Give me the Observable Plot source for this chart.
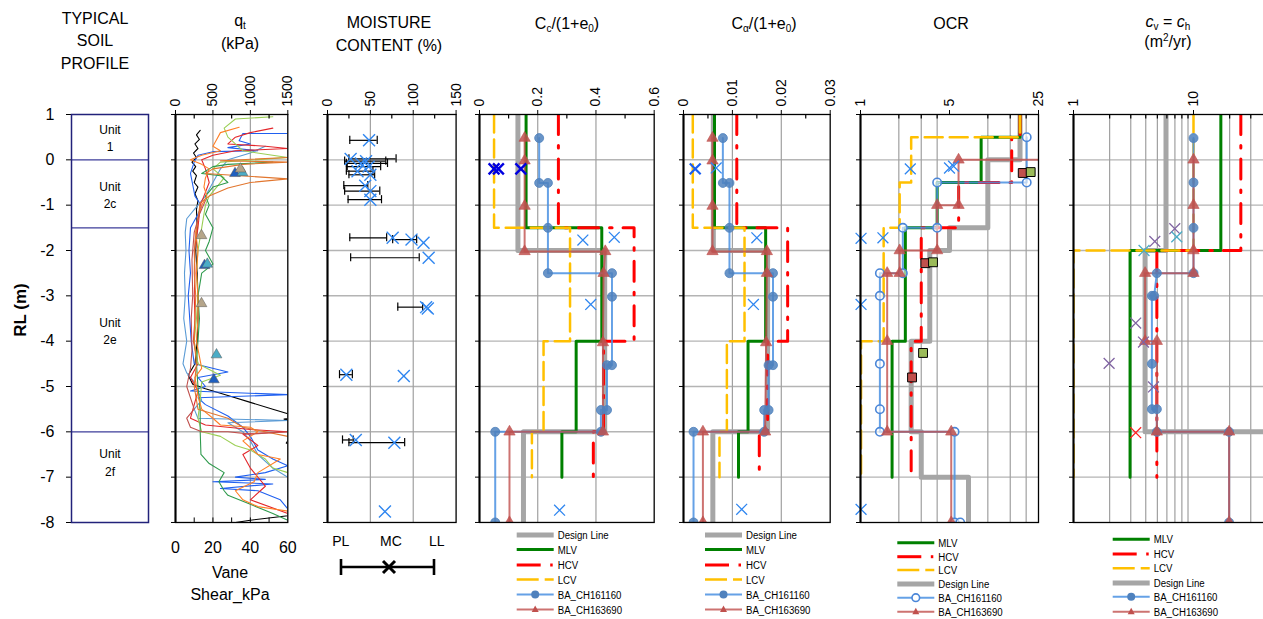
<!DOCTYPE html>
<html><head><meta charset="utf-8">
<script src="https://cdn.jsdelivr.net/npm/d3@7"></script>
<script src="https://cdn.jsdelivr.net/npm/@observablehq/plot@0.6"></script>
<style>
html,body{margin:0;padding:0;overflow:hidden;background:#fff}
#root{position:relative;width:1263px;height:619px;overflow:hidden;background:#fff;font-family:Arial,"Liberation Sans",Helvetica,sans-serif;color:#000}
.t{position:absolute;transform:translate(-50%,-50%);white-space:nowrap;text-align:center;font-size:16px;line-height:23px}
.t sub{font-size:10px;vertical-align:-3px;line-height:0}
.t sup{font-size:10px;vertical-align:6px;line-height:0}
.panel{position:absolute;top:0}
</style></head><body><div id="root"></div>
<script>
// ---------------- DATA ----------------
const rlTicks = [1,0,-1,-2,-3,-4,-5,-6,-7,-8];
const rlGrid = [0,-1,-2,-3,-4,-5,-6,-7];
const units = [{rl:0.5,label:"Unit\n1"},{rl:-0.75,label:"Unit\n2c"},{rl:-3.75,label:"Unit\n2e"},{rl:-6.65,label:"Unit\n2f"}];
const unitBounds = [0,-1.5,-6];

const qtTicks=[0,500,1000,1500], qtMinor=[250,750,1250], qtGrid=[500,1000];
const vaneTicks=[0,20,40,60], vaneMinor=[10,20,30,40,50];
const mcTicks=[0,50,100,150], mcMinor=[25,75,125], mcGrid=[50,100];
const ccTicks=[0,0.2,0.4,0.6], ccMinor=[0.1,0.3,0.5], ccGrid=[0.2,0.4];
const caTicks=[0,0.01,0.02,0.03], caMinor=[0.005,0.015,0.025], caGrid=[0.01,0.02];
const ocrTicks=[1,5,25], ocrGrid=[2,3,4,10,15,20];
const cvTicks=[1,10], cvGrid=[2,3,4,5,6,7,8,9,20,30,40,50,60,70,80,90];

// CPT qt traces [qt kPa, RL m]
const cptBlack=[[330,0.65],[280,0.55],[320,0.45],[260,0.35],[300,0.25],[240,0.15],[280,0.05],[220,-0.05],[270,-0.15],[230,-0.25],[280,-0.35],[250,-0.5],[300,-0.6],[260,-0.75],[300,-0.9],[280,-1.1],[290,-1.5],[270,-2],[290,-2.5],[300,-3],[300,-3.5],[290,-4],[260,-4.5],[170,-4.75],[230,-4.95],[400,-5.05],[700,-5.2],[1000,-5.35],[1300,-5.5],[1500,-5.6],[1700,-5.65],[1450,-5.72],[1650,-5.8],[1480,-6.25],[1650,-6.3],[1600,-7.5],[1500,-7.85],[1000,-7.95],[800,-8]];
const cptBlue=[[1500,0.58],[900,0.58],[850,0.42],[1000,0.35],[700,0.27],[1100,0.2],[500,0.18],[300,0.1],[250,-0.05],[200,-0.3],[230,-0.55],[260,-0.8],[350,-1.02],[300,-1.2],[200,-1.5],[180,-2],[200,-2.5],[170,-3],[190,-3.5],[210,-4],[250,-4.5],[700,-4.68],[300,-4.8],[400,-5.0],[200,-5.1],[1500,-5.18],[300,-5.25],[400,-5.4],[700,-5.65],[900,-5.9],[1000,-6.1],[1100,-6.4],[1300,-6.6],[1500,-6.75],[1200,-6.9],[800,-7.0],[1200,-7.05],[500,-7.1],[1300,-7.15],[600,-7.25],[1100,-7.3],[1400,-7.5],[1500,-7.7]];
const cptLightBlue=[[1200,0.3],[1000,0.15],[700,0.0],[600,-0.2],[500,-0.5],[400,-0.8],[250,-1.1],[150,-1.3],[130,-1.6],[140,-2],[120,-2.5],[130,-3],[110,-3.5],[150,-4],[100,-4.5],[150,-4.7],[250,-4.9],[350,-5.3],[250,-5.5],[300,-5.7],[1500,-5.75],[700,-5.8],[900,-6.0],[1000,-6.2],[1100,-6.5],[1300,-6.8],[1500,-7]];
const cptRed=[[1300,0.7],[1000,0.6],[800,0.5],[700,0.35],[1200,0.3],[1500,0.25],[800,0.2],[500,0.1],[350,0.0],[400,-0.2],[450,-0.5],[380,-0.8],[330,-1.0],[300,-1.5],[250,-2],[260,-2.5],[250,-3],[260,-3.5],[240,-4],[300,-4.5],[200,-4.8],[300,-5.1],[250,-5.4],[200,-5.7],[400,-5.85],[1000,-5.95],[1500,-6.0],[900,-6.05],[1100,-6.3],[900,-6.5],[1000,-6.8],[1200,-7.2],[1000,-7.5],[1500,-7.8]];
const cptYellowGreen=[[1300,0.95],[800,0.9],[650,0.7],[700,0.5],[800,0.35],[900,0.2],[1500,0.05],[600,-0.05],[500,-0.2],[650,-0.4],[550,-0.6],[450,-0.8],[400,-1.0],[350,-1.5],[300,-2],[280,-2.5],[300,-3],[280,-3.5],[250,-4],[300,-4.5],[600,-4.75],[350,-4.9],[330,-5.3],[300,-5.7],[350,-6.0],[600,-6.1],[800,-6.3],[1000,-6.4],[1200,-6.6],[1300,-6.8],[1500,-6.9]];
const cptGreen=[[1300,-0.05],[700,-0.1],[500,-0.15],[350,-0.3],[600,-0.35],[700,-0.5],[500,-0.6],[400,-0.8],[450,-1.0],[400,-1.2],[500,-1.5],[450,-1.8],[400,-2],[500,-2.3],[350,-2.5],[300,-3],[320,-3.5],[300,-4],[280,-4.5],[300,-5],[330,-5.5],[330,-6],[340,-6.5],[450,-6.7],[650,-6.9],[580,-7.1],[650,-7.3],[700,-7.4],[1000,-7.6],[1300,-7.8],[1500,-7.95]];
const cptOrange=[[850,0.72],[600,0.6],[550,0.45],[500,0.3],[600,0.2],[350,0.1],[200,0.0],[350,-0.1],[450,-0.2],[400,-0.4],[380,-0.6],[420,-0.8],[350,-1.0],[300,-1.3],[270,-1.6],[300,-2],[280,-2.5],[300,-3],[300,-3.5],[280,-4],[350,-4.6],[260,-4.8],[300,-5.2],[350,-5.5],[500,-5.7],[600,-5.85],[1000,-5.9],[1100,-6.0],[900,-6.2],[1100,-6.5],[1400,-6.6],[1100,-6.9],[1050,-7.1],[800,-7.3],[900,-7.5],[1100,-7.65],[1500,-7.75]];
const cptDarkOrange=[[1500,0.05],[600,-0.02],[1500,-0.05],[900,-0.1],[500,-0.2],[400,-0.3],[1500,-0.42],[1000,-0.5],[700,-0.62],[450,-0.8],[330,-0.95],[300,-1.3],[260,-1.8],[250,-2.5],[270,-3],[260,-3.5],[250,-4],[280,-4.5],[250,-5],[300,-5.5],[700,-5.7],[900,-5.9],[1500,-6.1]];
const cptBrick=[[400,-0.9],[320,-1.2],[250,-1.6],[220,-2.2],[230,-3],[210,-3.5],[220,-4.2],[200,-4.6],[150,-5],[250,-5.5],[150,-5.7],[200,-5.9],[350,-6.0],[700,-6.0],[1000,-6.05],[1500,-6.0]];
const cptColors=["#000000","#2060f0","#5b9bd5","#e3262b","#9bcf55","#2e9a4c","#ff7f27","#e2762e","#c0504d"];

// vane shear [kPa, RL, colour]
const vane=[[31.8,-0.30,"#1f5fbf"],[35.8,-0.28,"#4bacc6"],[34.7,-0.2,"#b5a58a"],[15.5,-2.33,"#1f5fbf"],[17,-2.3,"#4bacc6"],[13.9,-1.67,"#b5a58a"],[13.9,-3.17,"#b5a58a"],[21.9,-4.3,"#4bacc6"],[20.5,-4.85,"#1f5fbf"]];

// moisture: RL, PL, LL, MC
const mcRL=[0.43,0.02,-0.03,-0.08,-0.15,-0.25,-0.33,-0.57,-0.69,-0.88,-1.72,-1.76,-1.83,-2.16,-3.25,-3.28,-4.74,-4.77,-6.18,-6.24,-7.76];
const mcPL=[26,25,20,22,23,22,25,19,20,24,26,76,null,27,82,null,14,null,17.5,25,null];
const mcLL=[58,80,68,70,62,53,55,47,61,63,69,104,null,107,111,null,29,null,30,90,null];
const mcMC=[48.5,27,45,39,48,35,50,44,50,50,76,98,112,118,115,117,22,89,33,78,67];

// Cc/(1+e0) [value, RL]
const ccDesign=[[0.132,1],[0.132,-2],[0.43,-2],[0.43,-6],[0.151,-6],[0.151,-8]];
const ccMLV=[[0.16,1],[0.16,-1.5],[0.42,-1.5],[0.42,-4],[0.332,-4],[0.332,-6],[0.283,-6],[0.283,-7]];
const ccHCV=[[0.271,1],[0.271,-1.5],[0.531,-1.5],[0.531,-4],[0.426,-4],[0.426,-6],[0.391,-6],[0.391,-7]];
const ccLCV=[[0.05,1],[0.05,-1.5],[0.311,-1.5],[0.311,-4],[0.22,-4],[0.22,-6],[0.18,-6],[0.18,-7]];
const ccBA1=[[0.205,0.48],[0.205,-0.51],[0.235,-0.51],[0.235,-1.5],[0.235,-2.5],[0.455,-2.5],[0.455,-3.02],[0.455,-4.53],[0.438,-4.53],[0.438,-5.52],[0.417,-5.52],[0.417,-6.0],[0.054,-6.0],[0.054,-8]];
const ccBA2=[[0.155,0.48],[0.155,-0.02],[0.155,-1.02],[0.155,-2.02],[0.432,-2.02],[0.426,-2.5],[0.424,-4.03],[0.424,-6.0],[0.103,-6.0],[0.103,-8]];
const ccXdark=[[0.05,-0.2],[0.065,-0.2],[0.142,-0.2]];
const ccXlight=[[0.355,-1.77],[0.463,-1.71],[0.382,-3.19],[0.275,-7.73]];

// Calpha/(1+e0)
const caDesign=[[0.0061,1],[0.0061,-2],[0.0172,-2],[0.0172,-6],[0.006,-6],[0.006,-8]];
const caMLV=[[0.00634,1],[0.00634,-1.5],[0.0168,-1.5],[0.0168,-4],[0.0132,-4],[0.0132,-6],[0.01125,-6],[0.01125,-7]];
const caHCV=[[0.0109,1],[0.0109,-1.5],[0.0213,-1.5],[0.0213,-4],[0.0172,-4],[0.0172,-6],[0.0155,-6],[0.0155,-7]];
const caLCV=[[0.0019,1],[0.0019,-1.5],[0.01248,-1.5],[0.01248,-4],[0.00887,-4],[0.00887,-6],[0.00736,-6],[0.00736,-7]];
const caBA1=[[0.00805,0.48],[0.00805,-0.51],[0.0094,-0.51],[0.0094,-1.5],[0.0094,-2.5],[0.0183,-2.5],[0.0183,-3.02],[0.0183,-4.53],[0.0174,-4.53],[0.0174,-5.52],[0.0165,-5.52],[0.0165,-6.0],[0.00205,-6.0],[0.00205,-8]];
const caBA2=[[0.00593,0.48],[0.00593,-0.02],[0.00593,-1.02],[0.00593,-2.02],[0.01705,-2.02],[0.01705,-2.5],[0.0169,-4.03],[0.0167,-6.0],[0.00397,-6.0],[0.00397,-8]];
const caXdark=[[0.0024,-0.2]];
const caXlight=[[0.00669,-0.18],[0.015,-1.72],[0.0143,-3.19],[0.0119,-7.71]];

// OCR
const ocrDesign=[[17.9,1],[17.9,0],[10,0],[10,-1.5],[5,-1.5],[5,-2],[3.5,-2],[3.5,-4],[2.5,-4],[2.5,-6],[3,-6],[3,-7],[7.05,-7],[7.05,-8]];
const ocrMLV=[[17.9,1],[17.9,0.5],[8.86,0.5],[8.86,-0.5],[4.0,-0.5],[4.0,-1.5],[2.25,-1.5],[2.25,-4],[1.77,-4],[1.77,-7]];
const ocrHCV=[[17.9,1],[17.9,0.5],[15.4,0.5],[15.4,-0.5],[5.9,-0.5],[5.9,-1.5],[3.0,-1.5],[3.0,-4],[2.5,-4],[2.5,-7]];
const ocrLCV=[[17.9,1],[17.9,0.5],[2.5,0.5],[2.5,-0.5],[2.03,-0.5],[2.03,-1.5],[1.52,-1.5],[1.52,-4],[1.01,-4],[1.01,-7]];
const ocrBA1=[[20.2,0.5],[20.2,-0.5],[4.0,-0.5],[4.0,-1.5],[2.15,-1.5],[2.15,-2.5],[1.42,-2.5],[1.42,-3.0],[1.42,-4.5],[1.42,-5.5],[1.42,-6.0],[5.48,-6.0],[5.48,-8.0],[6.07,-8.0]];
const ocrBA2=[[40,0],[5.89,0],[5.89,-1.0],[4.0,-1.0],[4.0,-2.0],[2.03,-2.0],[2.03,-2.5],[1.62,-2.5],[1.62,-4.0],[1.62,-6.0],[5.16,-6.0],[5.16,-8]];
const ocrSqRed=[[18.8,-0.29],[3.23,-2.28],[2.54,-4.8]];
const ocrSqGreen=[[21.7,-0.27],[3.71,-2.26],[3.1,-4.26]];
const ocrX=[[2.46,-0.2],[5.0,-0.18],[5.38,-0.14],[1.01,-1.73],[1.5,-1.72],[1.01,-3.19],[1.01,-7.71]];

// cv = ch
const cvDesign=[[5.9,1],[5.9,-2],[3.95,-2],[3.95,-6],[300,-6]];
const cvMLV=[[16.9,1],[16.9,-2],[2.96,-2],[2.96,-7]];
const cvHCV=[[24.8,1],[24.8,-2],[4.95,-2],[4.95,-7]];
const cvLCV=[[10,1],[10,-2],[1.0,-2],[1.0,-7]];
const cvBA1=[[10,0.48],[10,-0.5],[10,-1.5],[10,-2.5],[4.95,-2.5],[4.7,-3.0],[4.5,-3.0],[4.5,-4.5],[4.5,-5.5],[4.95,-5.5],[4.95,-6],[19.8,-6],[19.8,-8]];
const cvBA2=[[10,0],[10,-1],[10,-2],[10,-2.5],[3.95,-2.5],[3.95,-4],[4.95,-4],[4.95,-6],[19.8,-6],[19.8,-8]];
const cvXpurple=[[6.98,-1.52],[4.76,-1.8],[3.3,-3.6],[3.83,-4.02],[1.98,-4.49],[4.64,-5.01]];
const cvXteal=[[7.25,-1.7],[3.87,-2.0]];
const cvXred=[[3.3,-6.02]];

const legendA=["design","mlv","hcv","lcv","ba1","ba2"];
const legendB=["mlv","hcv","lcv","design","ba1","ba2"];
const legendNames={design:"Design Line",mlv:"MLV",hcv:"HCV",lcv:"LCV",ba1:"BA_CH161160",ba2:"BA_CH163690"};

// ---------------- STYLE ----------------
const FONT='Arial, "Liberation Sans", Helvetica, sans-serif';
const H=619, MT=114, MB=97;
const ST={
  design:{stroke:"#a6a6a6",strokeWidth:5},
  mlv:{stroke:"#008000",strokeWidth:3},
  hcv:{stroke:"#ff0000",strokeWidth:3,strokeDasharray:"20,11,2.5,11"},
  lcv:{stroke:"#ffc000",strokeWidth:2.5,strokeDasharray:"18,7"},
  ba1:{stroke:"#4a90e2",strokeWidth:2,strokeOpacity:0.85},
  ba2:{stroke:"#c0504d",strokeWidth:2,strokeOpacity:0.8}
};
const root=document.getElementById("root");
const X=d=>d[0], Y=d=>d[1];

function addPanel(x0,x1,ml,mr,xOpt,yOpt,marks,fs){
  const width=(x1-x0)+ml+mr;
  const svg=Plot.plot({
    width,height:H,marginTop:MT,marginBottom:MB,marginLeft:ml,marginRight:mr,
    style:{fontFamily:FONT,fontSize:(fs||14)+"px",background:"transparent",overflow:"visible",maxWidth:"none",color:"#000"},
    x:xOpt,
    y:Object.assign({domain:[-8,1],ticks:rlTicks,tickSize:4,tickFormat:()=>"",label:null},yOpt||{}),
    marks
  });
  const d=document.createElement("div");
  d.className="panel"; d.style.left=(x0-ml)+"px";
  d.appendChild(svg); root.appendChild(d);
}
function topAxis(domain,ticks,type){
  const o={domain,axis:"top",ticks,tickFormat:()=>"",tickSize:5,label:null};
  if(type) o.type=type;
  return o;
}
function topLabels(ticks,fmt){
  return Plot.text(ticks,{x:d=>d,y:1,text:fmt||(d=>String(d)),rotate:-90,textAnchor:"start",dy:-8,fontSize:14});
}
function common(grid){
  return [
    Plot.ruleY(rlGrid,{stroke:"#b4b4b4",strokeWidth:1.4}),
    Plot.ruleX(grid,{stroke:"#a0a0a0",strokeWidth:1.2})
  ];
}
function frameMarks(minor,xmin){
  return [
    Plot.frame({stroke:"#000",strokeWidth:1.3}),
    Plot.ruleX([xmin],{stroke:"#000",strokeWidth:2}),
    Plot.ruleX(minor,{y1:1,y2:0.9,stroke:"#000",strokeWidth:1.2})
  ];
}
function stepMarks(design,mlv,hcv,lcv){
  return [
    Plot.line(design,{x:X,y:Y,...ST.design,clip:true}),
    Plot.line(mlv,{x:X,y:Y,...ST.mlv,clip:true}),
    Plot.line(hcv,{x:X,y:Y,...ST.hcv,clip:true}),
    Plot.line(lcv,{x:X,y:Y,...ST.lcv,clip:true})
  ];
}
function baMarks(ba1,ba2,openCircles){
  return [
    Plot.line(ba1,{x:X,y:Y,...ST.ba1,clip:true}),
    Plot.line(ba2,{x:X,y:Y,...ST.ba2,clip:true}),
    openCircles
      ? Plot.dot(ba1,{x:X,y:Y,r:4.2,fill:"white",fillOpacity:0.6,stroke:"#4a86d8",strokeWidth:1.6,clip:true})
      : Plot.dot(ba1,{x:X,y:Y,r:4.5,fill:"#4f81bd",fillOpacity:0.85,stroke:"#4f81bd",strokeWidth:0.8,clip:true}),
    Plot.dot(ba2,{x:X,y:Y,symbol:"triangle",r:4.2,fill:"#c0504d",fillOpacity:0.85,stroke:"#c0504d",strokeWidth:0.6,clip:true})
  ];
}
function xMarks(data,color,w){
  return Plot.dot(data,{x:X,y:Y,symbol:"times",r:5,stroke:color,strokeWidth:w||1.3});
}

// ---------------- PANELS ----------------
// 1 soil profile
addPanel(71,148,71,10,{domain:[0,1],axis:null},
  {tickSize:5,tickPadding:12,tickFormat:d=>String(d)},
  [
    Plot.ruleY(unitBounds,{stroke:"#3d3d9a",strokeWidth:1.3}),
    Plot.frame({stroke:"#22227a",strokeWidth:1.5}),
    Plot.text(units,{x:0.5,y:"rl",text:"label",fontSize:12,lineHeight:1.45})
  ],16);

// 2 qt / vane
const cptTraces=[cptBlack,cptBlue,cptLightBlue,cptRed,cptYellowGreen,cptGreen,cptOrange,cptDarkOrange,cptBrick];
addPanel(175,287.3,10,10,topAxis([0,1500],qtTicks),null,[
  ...common(qtGrid),
  ...cptTraces.map((t,i)=>Plot.line(t,{x:X,y:Y,stroke:cptColors[i],strokeWidth:1.1,clip:true})),
  Plot.dot(vane,{x:d=>d[0]*25,y:d=>d[1],symbol:"triangle",r:4,fill:d=>d[2],stroke:"#555",strokeWidth:0.5}),
  Plot.ruleX(vaneMinor.map(v=>v*25),{y1:-8,y2:-7.9,stroke:"#000"}),
  Plot.text(vaneTicks,{x:d=>d*25,y:-8,dy:25,text:d=>String(d),fontSize:16}),
  topLabels(qtTicks),
  ...frameMarks(qtMinor,0)
]);

// 3 moisture
const mcRows=mcRL.map((rl,i)=>({rl,pl:mcPL[i],ll:mcLL[i],mc:mcMC[i]}));
const mcBars=mcRows.filter(d=>d.pl!=null);
addPanel(326.7,455.3,10,10,topAxis([0,150],mcTicks),null,[
  ...common(mcGrid),
  Plot.ruleY(mcBars,{y:"rl",x1:"pl",x2:"ll",stroke:"#000",strokeWidth:1.2}),
  Plot.ruleX(mcBars,{x:"pl",y1:d=>d.rl-0.09,y2:d=>d.rl+0.09,stroke:"#000",strokeWidth:1.2}),
  Plot.ruleX(mcBars,{x:"ll",y1:d=>d.rl-0.09,y2:d=>d.rl+0.09,stroke:"#000",strokeWidth:1.2}),
  Plot.dot(mcRows,{x:"mc",y:"rl",symbol:"times",r:5.5,stroke:"#2f86f0",strokeWidth:1.4}),
  topLabels(mcTicks),
  ...frameMarks(mcMinor,0)
]);

// 4 Cc
addPanel(479.3,654,10,10,topAxis([0,0.6],ccTicks),null,[
  ...common(ccGrid),
  ...stepMarks(ccDesign,ccMLV,ccHCV,ccLCV),
  ...baMarks(ccBA1,ccBA2,false),
  xMarks(ccXdark,"#0000e0",2.4),
  xMarks(ccXlight,"#2f86f0",1.3),
  topLabels(ccTicks),
  ...frameMarks(ccMinor,0)
]);

// 5 Ca
addPanel(683.3,830,10,10,topAxis([0,0.03],caTicks),null,[
  ...common(caGrid),
  ...stepMarks(caDesign,caMLV,caHCV,caLCV),
  ...baMarks(caBA1,caBA2,false),
  xMarks(caXdark,"#1a5ef0",2.2),
  xMarks(caXlight,"#2f86f0",1.3),
  topLabels(caTicks),
  ...frameMarks(caMinor,0)
]);

// 6 OCR
addPanel(860,1038,10,10,topAxis([1,25],ocrTicks,"log"),null,[
  ...common(ocrGrid),
  ...stepMarks(ocrDesign,ocrMLV,ocrHCV,ocrLCV),
  ...baMarks(ocrBA1,ocrBA2,true),
  Plot.dot(ocrSqRed,{x:X,y:Y,symbol:"square",r:5,fill:"#c0504d",stroke:"#000",strokeWidth:1}),
  Plot.dot(ocrSqGreen,{x:X,y:Y,symbol:"square",r:5,fill:"#9bbb59",stroke:"#000",strokeWidth:1}),
  xMarks(ocrX,"#2f86f0",1.3),
  topLabels(ocrTicks),
  ...frameMarks(ocrGrid,1)
]);

// 7 cv
addPanel(1072.7,1312.7,10,10,topAxis([1,100],cvTicks,"log"),null,[
  ...common(cvGrid),
  ...stepMarks(cvDesign,cvMLV,cvHCV,cvLCV),
  ...baMarks(cvBA1,cvBA2,false),
  xMarks(cvXpurple,"#8064a2",1.3),
  xMarks(cvXteal,"#4bacc6",1.3),
  xMarks(cvXred,"#ff2020",1.3),
  topLabels(cvTicks),
  ...frameMarks(cvGrid,1)
]);

// ---------------- TEXT ----------------
function label(html,x,y,extra){
  const d=document.createElement("div");
  d.className="t"; d.style.left=x+"px"; d.style.top=y+"px";
  if(extra) Object.assign(d.style,extra);
  d.innerHTML=html; root.appendChild(d);
}
label("TYPICAL<br>SOIL<br>PROFILE",95,41.5,{lineHeight:"22.5px"});
label("q<sub>t</sub><br>(kPa)",240,31.5);
label("MOISTURE<br>CONTENT (%)",389,34);
label("C<sub>c</sub>/(1+e<sub>0</sub>)",567,23);
label("C<sub>α</sub>/(1+e<sub>0</sub>)",764,23);
label("OCR",951,23);
label("<i>c</i><sub>v</sub> = <i>c</i><sub>h</sub><br>(m<sup>2</sup>/yr)",1168,31.7,{lineHeight:"20px"});
label("Vane<br>Shear_kPa",230,584,{lineHeight:"22px"});
label("RL (m)",20,310,{fontWeight:"bold",fontSize:"17px",transform:"translate(-50%,-50%) rotate(-90deg)"});
label("PL",340.7,541,{fontSize:"14px"});
label("MC",391,541,{fontSize:"14px"});
label("LL",436.7,541,{fontSize:"14px"});

// ---------------- LEGENDS ----------------
const ov=d3.select(root).append("svg").attr("width",1263).attr("height",619)
  .style("position","absolute").style("left","0px").style("top","0px").style("pointer-events","none");
// moisture legend symbol
const mg=ov.append("g").attr("stroke","#000").attr("stroke-width",2.6);
mg.append("line").attr("x1",341).attr("x2",434).attr("y1",567).attr("y2",567);
mg.append("line").attr("x1",341).attr("x2",341).attr("y1",559).attr("y2",575);
mg.append("line").attr("x1",434).attr("x2",434).attr("y1",559).attr("y2",575);
mg.append("line").attr("x1",383).attr("x2",395).attr("y1",561).attr("y2",573).attr("stroke-width",3);
mg.append("line").attr("x1",383).attr("x2",395).attr("y1",573).attr("y2",561).attr("stroke-width",3);

function drawLegend(x0,ys,keys,openCircle){
  const len=37;
  keys.forEach((k,i)=>{
    const y=ys[i], s=ST[k], g=ov.append("g");
    if(k==="hcv"){
      g.append("line").attr("x1",x0).attr("x2",x0+24).attr("y1",y).attr("y2",y).attr("stroke",s.stroke).attr("stroke-width",3);
      g.append("line").attr("x1",x0+33.5).attr("x2",x0+36).attr("y1",y).attr("y2",y).attr("stroke",s.stroke).attr("stroke-width",3);
    } else if(k==="lcv"){
      g.append("line").attr("x1",x0).attr("x2",x0+len).attr("y1",y).attr("y2",y).attr("stroke",s.stroke).attr("stroke-width",2.5).attr("stroke-dasharray","22,6");
    } else {
      g.append("line").attr("x1",x0).attr("x2",x0+len).attr("y1",y).attr("y2",y).attr("stroke",s.stroke).attr("stroke-width",s.strokeWidth).attr("stroke-opacity",s.strokeOpacity||1);
    }
    if(k==="ba1"){
      if(openCircle) g.append("circle").attr("cx",x0+len/2).attr("cy",y).attr("r",3.8).attr("fill","white").attr("stroke","#4a86d8").attr("stroke-width",1.6);
      else g.append("circle").attr("cx",x0+len/2).attr("cy",y).attr("r",4).attr("fill","#4f81bd");
    }
    if(k==="ba2"){
      const cx=x0+len/2;
      g.append("path").attr("d",`M${cx},${y-4}L${cx+3.5},${y+2.5}L${cx-3.5},${y+2.5}Z`).attr("fill","#c0504d");
    }
    g.append("text").attr("transform",`translate(${x0+len+4},${y}) scale(0.84,1)`).attr("dy","0.36em").attr("font-size",11.5)
      .attr("font-family",FONT).attr("fill","#000").text(legendNames[k]);
  });
}
drawLegend(516.7,[535,549.5,565,579.5,594.5,609.5],legendA,false);
drawLegend(705,[535,549.5,565,579.5,594.5,609.5],legendA,false);
drawLegend(897.3,[542.7,556.7,570,584,597.7,611.7],legendB,true);
drawLegend(1112.7,[539.3,554,568.3,583,596.7,611.7],legendB,false);
</script></body></html>
